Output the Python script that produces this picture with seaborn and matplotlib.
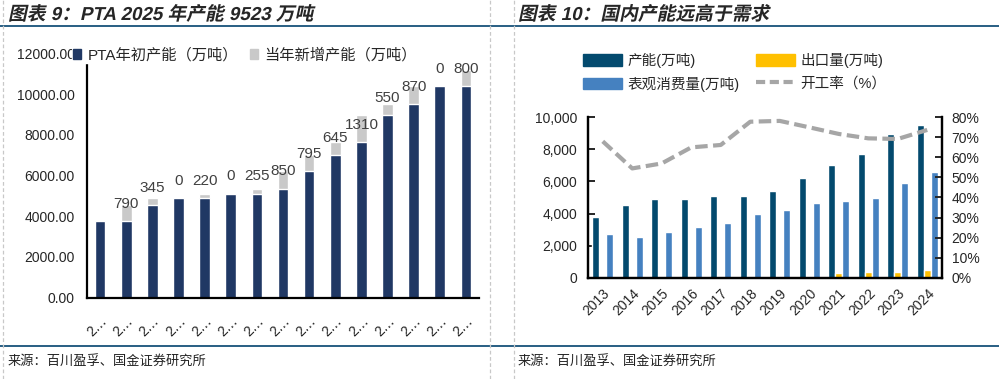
import numpy as np
import pandas as pd
import seaborn as sns
import matplotlib.pyplot as plt
from matplotlib.patches import Patch
from matplotlib.lines import Line2D
from matplotlib.transforms import Affine2D
from matplotlib import patheffects

# --- data: left chart (PTA capacity) ---
left_years = [str(y) for y in range(2011, 2026)]
left_ticklabels = ["2…"] * len(left_years)
base_cap = [3750, 3750, 4540, 4885, 4885, 5105, 5105, 5360, 6210, 7005, 7650, 8960, 9510, 10380, 10380]
new_cap = [0, 790, 345, 0, 220, 0, 255, 850, 795, 645, 1310, 550, 870, 0, 800]
new_labels = ["", "790", "345", "0", "220", "0", "255", "850", "795", "645", "1310", "550", "870", "0", "800"]

# --- data: right chart (capacity vs demand) ---
right_years = [str(y) for y in range(2013, 2025)]
capacity = [3760, 4550, 4890, 4885, 5120, 5110, 5380, 6215, 7020, 7690, 8990, 9510]
export = [50, 45, 45, 45, 45, 45, 45, 50, 290, 360, 360, 480]
consumption = [2740, 2560, 2830, 3140, 3420, 3980, 4230, 4640, 4780, 4970, 5880, 6600]
run_rate = [68, 54.5, 57, 65, 66.2, 77.8, 78.2, 75, 71.7, 69.5, 69.2, 73.7]

sns.set_style("white")
plt.rcParams["font.family"] = ["Liberation Sans", "Noto Sans CJK SC"]

W, H = 999, 379
fig = plt.figure(figsize=(W / 100, H / 100), dpi=100)


class Skew(patheffects.AbstractPathEffect):
    # fake italic for the CJK titles
    def __init__(self, y0):
        super().__init__()
        self.y0 = y0

    def draw_path(self, renderer, gc, tpath, affine, rgbFace=None):
        sk = Affine2D().translate(0, -self.y0).skew_deg(12, 0).translate(0, self.y0)
        renderer.draw_path(gc, tpath, affine + sk, rgbFace)


navy = "#203864"
light = "#C9C9C9"
dark_blue = "#034A6E"
gold = "#FFC000"
mid_blue = "#4581C0"
rate_gray = "#A6A6A6"
rule = "#17527A"

# =============================================================================
# left chart
# =============================================================================
axl = fig.add_axes([87 / W, 1 - 297.5 / H, 392 / W, 244 / H])
totals = [b + n for b, n in zip(base_cap, new_cap)]
sns.barplot(x=left_years, y=totals, color=light, saturation=1, width=0.41, errorbar=None, ax=axl)
sns.barplot(x=left_years, y=base_cap, color=navy, saturation=1, width=0.41, errorbar=None, ax=axl)
axl.bar_label(axl.containers[1], labels=new_labels, padding=7.5, fontsize=11, color="#404040")

axl.set_xlim(-0.5, len(left_years) - 0.5)
axl.set_ylim(0, 12000)
axl.set_yticks(np.arange(0, 12001, 2000))
axl.yaxis.set_major_formatter("{x:.2f}")
axl.set_xticks(range(len(left_years)))
axl.set_xticklabels(left_ticklabels, rotation=45, ha="right", rotation_mode="anchor")
axl.set_xticks(np.arange(0.5, len(left_years)), minor=True)
axl.tick_params(axis="x", which="major", length=0, pad=12, labelsize=10)
axl.tick_params(axis="x", which="minor", direction="in", length=5, width=1.4)
axl.tick_params(axis="y", length=0, pad=9, labelsize=10)
axl.set_xlabel("")
axl.set_ylabel("")
for s in ["top", "right"]:
    axl.spines[s].set_visible(False)
for s in ["left", "bottom"]:
    axl.spines[s].set_linewidth(1.6)
    axl.spines[s].set_color("black")

leg_l = axl.legend(
    handles=[Patch(color=navy), Patch(color=light)],
    labels=["PTA年初产能（万吨）", "当年新增产能（万吨）"],
    loc="center left", bbox_to_anchor=(72 / W, 1 - 55 / H), bbox_transform=fig.transFigure,
    ncol=2, fontsize=11, handlelength=0.55, handleheight=0.55, handletextpad=0.4,
    columnspacing=0.8, borderpad=0.05, borderaxespad=0,
    frameon=True, facecolor="white", edgecolor="white", framealpha=1,
)

# =============================================================================
# right chart
# =============================================================================
axr = fig.add_axes([588 / W, 1 - 277.7 / H, 354 / W, 160.4 / H])
series_order = ["产能(万吨)", "出口量(万吨)", "表观消费量(万吨)"]
df_r = pd.DataFrame({
    "year": right_years * 3,
    "series": np.repeat(series_order, len(right_years)),
    "value": capacity + export + consumption,
})
sns.barplot(data=df_r, x="year", y="value", hue="series", hue_order=series_order,
            palette=[dark_blue, gold, mid_blue], saturation=1, width=0.72, gap=0,
            errorbar=None, legend=False, ax=axr)
axr.set_xlim(-0.5, len(right_years) - 0.5)
axr.set_ylim(0, 10000)
axr.set_yticks(np.arange(0, 10001, 2000))
axr.yaxis.set_major_formatter("{x:,.0f}")
axr.set_xticks(range(len(right_years)))
axr.set_xticklabels(right_years, rotation=45, ha="right", rotation_mode="anchor")
axr.set_xticks(np.arange(0.5, len(right_years) - 0.5), minor=True)
axr.tick_params(axis="x", which="major", length=0, pad=6, labelsize=10)
axr.tick_params(axis="x", which="minor", direction="in", length=5, width=1.4)
axr.tick_params(axis="y", direction="in", length=5, width=1.4, pad=8, labelsize=10)
axr.set_xlabel("")
axr.set_ylabel("")

axr2 = axr.twinx()
sns.lineplot(x=np.arange(len(right_years)), y=run_rate, color=rate_gray, lw=3,
             ax=axr2, legend=False)
axr2.lines[0].set_dashes((3, 1.3))
axr2.set_ylim(0, 80)
axr2.set_yticks(np.arange(0, 81, 10))
axr2.yaxis.set_major_formatter("{x:.0f}%")
axr2.tick_params(axis="y", direction="in", length=5, width=1.4, pad=7, labelsize=10)
axr2.set_ylabel("")
for a in (axr, axr2):
    a.spines["top"].set_visible(False)
    for s in ["left", "right", "bottom"]:
        a.spines[s].set_linewidth(1.6)
        a.spines[s].set_color("black")

axr2.legend(
    handles=[Patch(color=dark_blue), Patch(color=mid_blue), Patch(color=gold),
             Line2D([], [], color=rate_gray, lw=3, dashes=(2.2, 1.1))],
    labels=["产能(万吨)", "表观消费量(万吨)", "出口量(万吨)", "开工率（%）"],
    loc="upper left", bbox_to_anchor=(583 / W, 1 - 53 / H), bbox_transform=fig.transFigure,
    ncol=2, fontsize=10.5, handlelength=2.7, handleheight=0.8, handletextpad=0.35,
    columnspacing=1.1, labelspacing=0.6, borderpad=0, borderaxespad=0, frameon=False,
)

# =============================================================================
# titles, rules and sources
# =============================================================================
base_y = 1 - 20 / H
for x, t in [(8, "图表 9：PTA 2025 年产能 9523 万吨"), (518, "图表 10：国内产能远高于需求")]:
    fig.text(x / W, base_y, t, fontsize=13.5, fontweight="bold", va="baseline", ha="left",
             path_effects=[Skew(base_y * H)])
    fig.text(x / W, 1 - 362 / H, "来源：百川盈孚、国金证券研究所", fontsize=9.5, va="center",
             ha="left", color="#222222")

fig.add_artist(Line2D([0, 1], [1 - 26 / H] * 2, color=rule, lw=1.3))
fig.add_artist(Line2D([0, 1], [1 - 346 / H] * 2, color=rule, lw=1.3))
for x in [3, 490, 514]:
    fig.add_artist(Line2D([x / W] * 2, [0, 1], color="#C8C8C8", lw=0.9, dashes=(3, 2)))

fig.savefig("out.png", dpi=100)
